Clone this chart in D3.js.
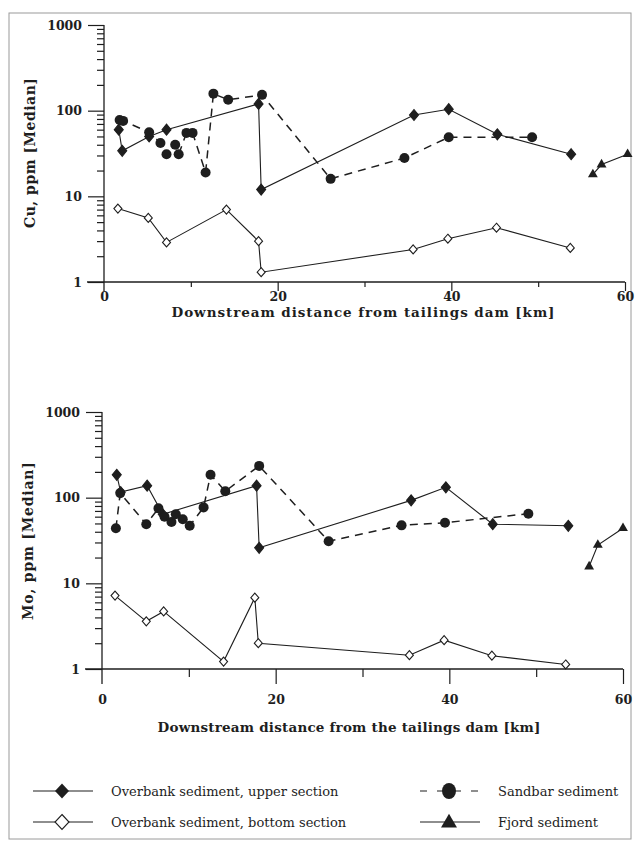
<!DOCTYPE html>
<html>
<head>
<meta charset="utf-8">
<script src="https://cdn.jsdelivr.net/npm/d3@7"></script>
<style>
  body { margin: 0; background: #fff; }
  svg { display: block; }
</style>
</head>
<body>
<div id="chart"></div>
<script>
// ---- data (km, ppm median) ----
var cuUpperKm   = [1.7, 2.1, 5.2, 7.2, 17.8, 18.1, 35.7, 39.7, 45.3, 53.8];
var cuUpperVal  = [60, 34, 50, 60, 120, 12, 89, 104, 53, 31];
var cuBottomKm  = [1.6, 5.1, 7.2, 14.1, 17.8, 18.1, 35.6, 39.6, 45.2, 53.7];
var cuBottomVal = [7.2, 5.6, 2.9, 7.0, 3.0, 1.3, 2.4, 3.2, 4.3, 2.5];
var cuSandKm    = [1.8, 2.2, 5.2, 6.5, 7.2, 8.2, 8.6, 9.5, 10.2, 11.7, 12.6, 14.3, 18.2, 26.1, 34.6, 39.7, 49.3];
var cuSandVal   = [78, 76, 56, 42, 31, 40, 31, 55, 55, 19, 158, 134, 153, 16, 28, 49, 49];
var cuFjordKm   = [56.3, 57.3, 60.3];
var cuFjordVal  = [18, 23.5, 31];

var moUpperKm   = [1.7, 2.15, 5.2, 7.0, 17.8, 18.1, 35.6, 39.6, 45.0, 53.7];
var moUpperVal  = [185, 116, 138, 64, 138, 26, 93, 132, 49, 47];
var moBottomKm  = [1.5, 5.1, 7.1, 14.0, 17.6, 18.0, 35.4, 39.4, 44.9, 53.4];
var moBottomVal = [7.2, 3.6, 4.7, 1.22, 6.8, 2.0, 1.45, 2.17, 1.43, 1.13];
var moSandKm    = [1.6, 2.1, 5.1, 6.5, 7.2, 8.0, 8.5, 9.3, 10.1, 11.7, 12.5, 14.2, 18.1, 26.1, 34.5, 39.5, 49.1];
var moSandVal   = [44, 113, 49, 75, 60, 52, 64, 56, 47, 77, 185, 119, 235, 31, 47.5, 51, 65];
var moFjordKm   = [56.1, 57.1, 60.0];
var moFjordVal  = [15.7, 28, 44];

var majorY = [1, 10, 100, 1000];
var majorX = [0, 20, 40, 60];
var minorX = [10, 30, 50];

var ink = '#1e1e1e';
var serif = '"DejaVu Serif", "Liberation Serif", serif';

var svg = d3.select('#chart').append('svg')
    .attr('width', 638)
    .attr('height', 843);

// faint frame of the scanned figure
svg.append('rect')
    .attr('x', 9).attr('y', 13)
    .attr('width', 622).attr('height', 826)
    .style('fill', 'none')
    .style('stroke', '#9a9a9a')
    .style('stroke-width', 1);

function zip(xs, ys) { return xs.map(function(d, i) { return [d, ys[i]]; }); }

function diamond(g, pts, x, y, filled) {
    g.selectAll(null).data(pts).enter().append('path')
        .attr('d', filled ? 'M0,-5.5L4.5,0L0,5.5L-4.5,0Z' : 'M0,-4.5L4,0L0,4.5L-4,0Z')
        .attr('transform', function(d) { return 'translate(' + x(d[0]) + ',' + y(d[1]) + ')'; })
        .style('fill', filled ? ink : '#fff')
        .style('stroke', ink)
        .style('stroke-width', 1.1);
}

function drawPanel(cfg) {
    var x = d3.scaleLinear().domain([0, 60]).range([cfg.x0, cfg.x0 + 521]);
    var y = d3.scaleLog().domain([1, 1000]).range([cfg.yBase, cfg.yBase - 257]);
    var g = svg.append('g');

    // y axis: major + minor log ticks
    var minorY = [];
    [1, 10, 100].forEach(function(dec) {
        for (var k = 2; k <= 9; k++) minorY.push(dec * k);
    });
    var gyMin = g.append('g').attr('transform', 'translate(' + x(0) + ',0)')
        .call(d3.axisLeft(y).tickValues(minorY).tickSize(7).tickFormat(''));
    gyMin.select('.domain').remove();
    var gy = g.append('g').attr('transform', 'translate(' + x(0) + ',0)')
        .call(d3.axisLeft(y).tickValues(majorY).tickSize(16).tickPadding(6).tickFormat(d3.format('d')));
    gy.select('.domain').remove();
    g.append('line')
        .attr('x1', x(0)).attr('x2', x(0))
        .attr('y1', y(1000)).attr('y2', y(1) + cfg.major)
        .style('stroke', ink).style('stroke-width', 1.3);

    // x axis
    var gxMin = g.append('g').attr('transform', 'translate(0,' + y(1) + ')')
        .call(d3.axisBottom(x).tickValues(minorX).tickSize(cfg.minor).tickFormat(''));
    gxMin.select('.domain').remove();
    var gx = g.append('g').attr('transform', 'translate(0,' + y(1) + ')')
        .call(d3.axisBottom(x).tickValues(majorX).tickSize(cfg.major).tickPadding(cfg.pad).tickFormat(d3.format('d')));
    gx.select('.domain').remove();
    gx.selectAll('.tick').filter(function(d) { return d === 0; }).select('line').remove();
    g.append('line')
        .attr('x1', x(0) - 17).attr('x2', x(60))
        .attr('y1', y(1)).attr('y2', y(1))
        .style('stroke', ink).style('stroke-width', 1.3);

    g.selectAll('.tick line').style('stroke', ink).style('stroke-width', 1.2);
    g.selectAll('.tick text')
        .style('font-family', serif)
        .style('font-weight', 'bold')
        .style('font-size', '12.5px')
        .style('fill', ink);

    // axis titles
    g.append('text')
        .attr('x', cfg.xTitleX).attr('y', y(1) + cfg.xTitleDy)
        .attr('text-anchor', 'middle')
        .attr('textLength', 383).attr('lengthAdjust', 'spacing')
        .style('font-family', serif).style('font-weight', 'bold').style('font-size', '13.5px')
        .style('fill', ink)
        .text(cfg.xTitle);
    g.append('text')
        .attr('transform', 'translate(' + cfg.yTitleX + ',' + cfg.yTitleY + ') rotate(-90)')
        .attr('text-anchor', 'middle')
        .attr('textLength', cfg.yTitleLen).attr('lengthAdjust', 'spacing')
        .style('font-family', serif).style('font-weight', 'bold').style('font-size', '14px')
        .style('fill', ink)
        .text(cfg.yTitle);

    var line = d3.line().x(function(d) { return x(d[0]); }).y(function(d) { return y(d[1]); });

    var upper = zip(cfg.upKm, cfg.upVal);
    var bottom = zip(cfg.botKm, cfg.botVal);
    var sand = zip(cfg.sandKm, cfg.sandVal);
    var fjord = zip(cfg.fjKm, cfg.fjVal);

    [upper, bottom, fjord].forEach(function(s) {
        g.append('path').datum(s).attr('d', line)
            .style('fill', 'none').style('stroke', ink).style('stroke-width', 1.1);
    });
    g.append('path').datum(sand).attr('d', line)
        .style('fill', 'none').style('stroke', ink).style('stroke-width', 1.5)
        .style('stroke-dasharray', '8,6');

    diamond(g, bottom, x, y, false);
    diamond(g, upper, x, y, true);

    g.selectAll(null).data(sand).enter().append('circle')
        .attr('cx', function(d) { return x(d[0]); })
        .attr('cy', function(d) { return y(d[1]); })
        .attr('r', 5)
        .style('fill', ink);

    g.selectAll(null).data(fjord).enter().append('path')
        .attr('d', d3.symbol(d3.symbolTriangle, 42))
        .attr('transform', function(d) { return 'translate(' + x(d[0]) + ',' + y(d[1]) + ')'; })
        .style('fill', ink);
}

drawPanel({
    x0: 104, yBase: 282, major: 9, minor: 5, pad: 1,
    upKm: cuUpperKm, upVal: cuUpperVal, botKm: cuBottomKm, botVal: cuBottomVal,
    sandKm: cuSandKm, sandVal: cuSandVal, fjKm: cuFjordKm, fjVal: cuFjordVal,
    xTitle: 'Downstream distance from tailings dam [km]', xTitleX: 363, xTitleDy: 35,
    yTitle: 'Cu, ppm [Median]', yTitleX: 35, yTitleY: 153, yTitleLen: 150
});

drawPanel({
    x0: 102, yBase: 669, major: 15, minor: 8, pad: 11,
    upKm: moUpperKm, upVal: moUpperVal, botKm: moBottomKm, botVal: moBottomVal,
    sandKm: moSandKm, sandVal: moSandVal, fjKm: moFjordKm, fjVal: moFjordVal,
    xTitle: 'Downstream distance from the tailings dam [km]', xTitleX: 349, xTitleDy: 63,
    yTitle: 'Mo, ppm [Median]', yTitleX: 33, yTitleY: 541, yTitleLen: 158
});

// ---- legend ----
var legendItems = [
    { label: 'Overbank sediment, upper section', col: 0, row: 0, mark: 'diamondFilled', dash: null },
    { label: 'Overbank sediment, bottom section', col: 0, row: 1, mark: 'diamondOpen', dash: null },
    { label: 'Sandbar sediment', col: 1, row: 0, mark: 'circle', dash: '7,10' },
    { label: 'Fjord sediment', col: 1, row: 1, mark: 'triangle', dash: null }
];
var legX = [33, 420], legY = [791, 822];

var leg = svg.append('g');
legendItems.forEach(function(it) {
    var lx = legX[it.col], ly = legY[it.row], cx = lx + 29;
    var gi = leg.append('g');
    gi.append('line')
        .attr('x1', lx).attr('x2', lx + 60).attr('y1', ly).attr('y2', ly)
        .style('stroke', ink).style('stroke-width', 1.2)
        .style('stroke-dasharray', it.dash);
    if (it.mark === 'diamondFilled') {
        gi.append('path').attr('d', 'M0,-7.5L7,0L0,7.5L-7,0Z')
            .attr('transform', 'translate(' + cx + ',' + ly + ')').style('fill', ink);
    } else if (it.mark === 'diamondOpen') {
        gi.append('path').attr('d', 'M0,-7.5L7,0L0,7.5L-7,0Z')
            .attr('transform', 'translate(' + cx + ',' + ly + ')')
            .style('fill', '#fff').style('stroke', ink).style('stroke-width', 1.1);
    } else if (it.mark === 'circle') {
        gi.append('ellipse').attr('cx', cx).attr('cy', ly).attr('rx', 7).attr('ry', 8).style('fill', ink);
    } else {
        gi.append('path').attr('d', d3.symbol(d3.symbolTriangle, 110))
            .attr('transform', 'translate(' + cx + ',' + (ly + 1) + ')').style('fill', ink);
    }
    gi.append('text')
        .attr('x', lx + 78).attr('y', ly + 5)
        .style('font-family', serif).style('font-size', '13px')
        .style('fill', ink)
        .text(it.label);
});
</script>
</body>
</html>
